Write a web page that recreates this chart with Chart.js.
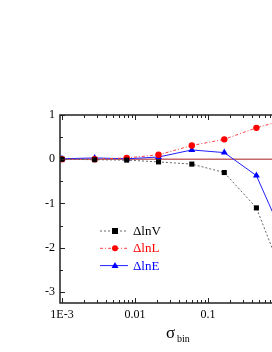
<!DOCTYPE html>
<html>
<head>
<meta charset="utf-8">
<script src="https://cdn.jsdelivr.net/npm/chart.js@4"></script>
<style>
  html, body { margin: 0; padding: 0; background: #fff; overflow: hidden; width: 272px; height: 352px; }
  #wrap { position: absolute; left: 0; top: 0; width: 320px; height: 352px; }
</style>
</head>
<body>
<div id="wrap"><canvas id="chart" width="320" height="352"></canvas></div>
<script>
    // values
    const sigmaBin = [0.001, 0.0028, 0.0077, 0.021, 0.06, 0.167, 0.46, 1.3];
    const dLnV = [0, -0.01, -0.02, -0.06, -0.11, -0.3, -1.1, -3.0];
    const dLnL = [0, 0.0, 0.03, 0.1, 0.31, 0.45, 0.71, 0.92];
    const dLnE = [0.01, 0.03, 0.01, 0.05, 0.21, 0.15, -0.37, -2.05];
    const xTicks = [0.001, 0.01, 0.1, 1];
    const yTicks = [-3, -2, -1, 0, 1];

    const serif = '"Liberation Serif", "DejaVu Serif", serif';

    function pts(ys) {
        return ys.map((y, i) => ({ x: sigmaBin[i], y: y }));
    }

    // frame, inward ticks, zero line, legend and axis title
    const extras = {
        id: 'extras',
        beforeDatasetsDraw(chart) {
            const ctx = chart.ctx, a = chart.chartArea;
            const y0 = chart.scales.y.getPixelForValue(0);
            ctx.save();
            ctx.strokeStyle = 'rgb(195,105,105)';
            ctx.lineWidth = 1.3;
            ctx.beginPath();
            ctx.moveTo(a.left, y0);
            ctx.lineTo(a.right, y0);
            ctx.stroke();
            ctx.restore();
        },
        afterDraw(chart) {
            const ctx = chart.ctx, a = chart.chartArea;
            const xs = chart.scales.x, ys = chart.scales.y;
            ctx.save();
            ctx.strokeStyle = '#222';
            ctx.lineWidth = 1.5;
            ctx.strokeRect(a.left, a.top, a.right - a.left, a.bottom - a.top);
            ctx.lineWidth = 1;
            ctx.beginPath();
            // y ticks
            for (let v = -3; v <= 1; v += 0.5) {
                const p = Math.round(ys.getPixelForValue(v)) + 0.5;
                const len = Number.isInteger(v) ? 5 : 3;
                ctx.moveTo(a.left, p); ctx.lineTo(a.left + len, p);
                ctx.moveTo(a.right, p); ctx.lineTo(a.right - len, p);
            }
            // x ticks (log)
            for (let e = -4; e <= 0; e++) {
                for (let m = 1; m <= 9; m++) {
                    const v = m * Math.pow(10, e);
                    if (v < xs.min || v > xs.max) continue;
                    const p = Math.round(xs.getPixelForValue(v)) + 0.5;
                    const len = m === 1 ? 5 : 3;
                    ctx.moveTo(p, a.bottom); ctx.lineTo(p, a.bottom - len);
                    ctx.moveTo(p, a.top); ctx.lineTo(p, a.top + len);
                }
            }
            ctx.stroke();

            // legend
            const items = [
                { label: 'ΔlnV', ds: 0 },
                { label: 'ΔlnL', ds: 1 },
                { label: 'ΔlnE', ds: 2 }
            ];
            items.forEach((it, i) => {
                const d = chart.data.datasets[it.ds];
                const y = 231 + i * 17.3;
                ctx.strokeStyle = d.borderColor;
                ctx.lineWidth = 1;
                ctx.setLineDash(d.borderDash || []);
                ctx.beginPath();
                ctx.moveTo(100, y); ctx.lineTo(128, y);
                ctx.stroke();
                ctx.setLineDash([]);
                ctx.fillStyle = d.pointBackgroundColor;
                ctx.beginPath();
                if (d.pointStyle === 'rect') {
                    ctx.rect(112, y - 3, 6, 6);
                } else if (d.pointStyle === 'circle') {
                    ctx.arc(115, y, 3, 0, Math.PI * 2);
                } else {
                    ctx.moveTo(115, y - 3.5); ctx.lineTo(118.5, y + 2.5); ctx.lineTo(111.5, y + 2.5);
                    ctx.closePath();
                }
                ctx.fill();
                ctx.fillStyle = d.pointBackgroundColor;
                ctx.font = '13px ' + serif;
                ctx.textAlign = 'left';
                ctx.textBaseline = 'middle';
                ctx.fillText(it.label, 133, y + 0.5);
            });

            // x axis title: sigma with subscript
            ctx.fillStyle = '#000';
            ctx.textBaseline = 'alphabetic';
            ctx.font = '17px ' + serif;
            ctx.fillText('σ', 166, 338);
            ctx.font = '10px ' + serif;
            ctx.fillText('bin', 177, 342);
            ctx.restore();
        }
    };

    new Chart(document.getElementById('chart'), {
        type: 'line',
        data: {
            datasets: [{
                label: 'ΔlnV',
                data: pts(dLnV),
                borderColor: '#666',
                borderWidth: 1,
                borderDash: [2, 2],
                pointStyle: 'rect',
                pointRadius: 3.6,
                pointBackgroundColor: '#000',
                pointBorderColor: '#000',
                pointBorderWidth: 0,
                tension: 0
            }, {
                label: 'ΔlnL',
                data: pts(dLnL),
                borderColor: '#ff4040',
                borderWidth: 1,
                borderDash: [3, 2, 1, 2],
                pointStyle: 'circle',
                pointRadius: 3.2,
                pointBackgroundColor: '#ff0000',
                pointBorderColor: '#ff0000',
                pointBorderWidth: 0,
                tension: 0
            }, {
                label: 'ΔlnE',
                data: pts(dLnE),
                borderColor: '#2020ff',
                borderWidth: 1,
                pointStyle: 'triangle',
                pointRadius: 4,
                pointBackgroundColor: '#0000ff',
                pointBorderColor: '#0000ff',
                pointBorderWidth: 0,
                tension: 0
            }]
        },
        options: {
            responsive: false,
            animation: false,
            layout: { padding: { top: 115, right: 17, left: 0, bottom: 0 } },
            plugins: { legend: { display: false }, tooltip: { enabled: false } },
            scales: {
                x: {
                    type: 'logarithmic',
                    min: 0.000939,
                    max: 2,
                    afterBuildTicks: s => { s.ticks = xTicks.map(v => ({ value: v })); },
                    afterFit: s => { s.height = 49; },
                    grid: { display: false, drawTicks: false },
                    border: { display: false },
                    ticks: {
                        color: '#000',
                        font: { family: serif, size: 12 },
                        padding: 5,
                        maxRotation: 0,
                        autoSkip: false,
                        callback: v => v === 0.001 ? '1E-3' : String(v)
                    }
                },
                y: {
                    min: -3.25,
                    max: 1,
                    afterBuildTicks: s => { s.ticks = yTicks.map(v => ({ value: v })); },
                    afterFit: s => { s.width = 60; },
                    grid: { display: false, drawTicks: false },
                    border: { display: false },
                    ticks: {
                        color: '#000',
                        font: { family: serif, size: 12 },
                        padding: 5
                    }
                }
            }
        },
        plugins: [extras]
    });
</script>
</body>
</html>
